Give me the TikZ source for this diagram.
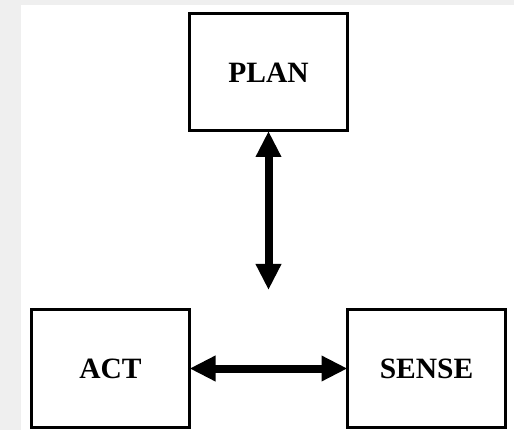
\documentclass[tikz,border=0pt]{standalone}
\usepackage{fontspec}
\setmainfont{Liberation Serif}
\usetikzlibrary{arrows.meta}
\definecolor{bggray}{HTML}{EFEFEF}
\begin{document}
\begin{tikzpicture}[x=1pt,y=-1pt,
  box/.style={draw=black, line width=3pt, minimum width=158pt, minimum height=117pt,
    inner sep=0pt, font=\fontsize{29.5}{32}\selectfont\bfseries},
  biarrow/.style={line width=8pt, {Triangle[width=24pt,length=26pt]}-{Triangle[width=24pt,length=26pt]}, shorten <=-1.5pt, shorten >=-1.5pt}]
\fill[bggray] (0,0) rectangle (514,430);
\fill[white] (21,5) rectangle (514,430);
\useasboundingbox (0,0) rectangle (514,430);
\node[box] (plan) at (268.5,72.5) {PLAN};
\node[box] (act) at (110.5,368.5) {ACT};
\node[box] (sense) at (426.5,368.5) {SENSE};
\coordinate (tip) at (268.5,290);
\draw[biarrow, shorten >=0pt] (plan.south) -- (tip);
\draw[biarrow] (act.east) -- (sense.west);
\end{tikzpicture}
\end{document}
